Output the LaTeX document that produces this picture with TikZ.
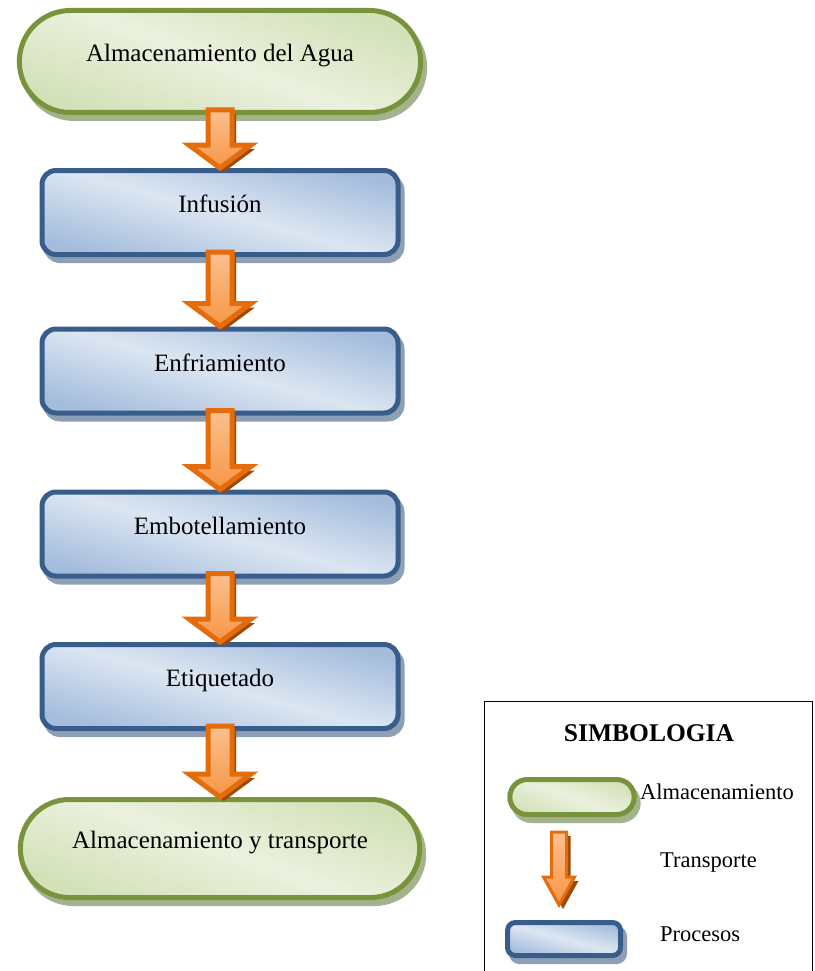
\documentclass[tikz,border=0pt]{standalone}
\usepackage{fontspec}
\setmainfont{Liberation Serif}
\usepackage{tikz}
\usetikzlibrary{calc,positioning,shadows,shapes.misc}
\definecolor{verdeborde}{HTML}{77933C}
\definecolor{verdeclaro}{HTML}{EBF1DE}
\definecolor{verdemedio}{HTML}{D3E1B8}
\definecolor{verdesombra}{HTML}{A3B38D}
\definecolor{azulborde}{HTML}{385D8A}
\definecolor{azulclaro}{HTML}{DCE6F2}
\definecolor{azulmedio}{HTML}{A5BDDD}
\definecolor{azulsombra}{HTML}{8E9FB5}
\definecolor{naranja}{HTML}{E46C0A}
\definecolor{naranjaclaro}{HTML}{FAC090}
\definecolor{naranjamedio}{HTML}{F79646}
\definecolor{naranjasombra}{HTML}{9C4A08}
\newcommand{\flecha}[6][]{%
  \draw[flecha,#1] ($(#2)+(-#4,-5)$) -- ($(#3)+(-#4,-#6)$) -- ($(#3)+(-#5,-#6)$) -- (#3)
    -- ($(#3)+(#5,-#6)$) -- ($(#3)+(#4,-#6)$) -- ($(#2)+(#4,-5)$) -- cycle;}

\begin{document}
\begin{tikzpicture}[
    x=1pt, y=-1pt,
    txt/.style={font=\fontsize{25}{30}\selectfont, text height=10pt, text depth=10pt},
    terminal/.style={rounded rectangle, draw=verdeborde, line width=5pt, txt,
        top color=verdemedio, bottom color=verdemedio, middle color=verdeclaro, shading angle=-20,
        drop shadow={shadow xshift=4pt, shadow yshift=-6pt, fill=verdesombra, draw=verdesombra, opacity=1}},
    proceso/.style={rectangle, rounded corners=14pt, draw=azulborde, line width=5pt, txt,
        minimum width=356pt, minimum height=84pt,
        top color=azulmedio, bottom color=azulmedio, middle color=azulclaro, shading angle=-15,
        drop shadow={shadow xshift=4pt, shadow yshift=-6pt, fill=azulsombra, draw=azulsombra, opacity=1}},
    flecha/.style={draw=naranja, line width=5pt, line join=miter,
        top color=naranjaclaro, bottom color=naranjamedio,
        drop shadow={shadow xshift=4pt, shadow yshift=-4pt, fill=naranjasombra, opacity=1}},
    leyenda/.style={font=\fontsize{22.5}{27}\selectfont, anchor=base west, inner sep=0}]
\useasboundingbox (0,0) rectangle (814,971);

% diagrama
\node[terminal, minimum width=408pt, minimum height=102pt] (agua) at (220,61.5) {Almacenamiento del Agua};
\node[proceso] (infusion) at (220,212.5) {Infusión};
\node[proceso] (enfriamiento) at (220,371) {Enfriamiento};
\node[proceso] (embotellado) at (220,534) {Embotellamiento};
\node[proceso] (etiquetado) at (220,686.5) {Etiquetado};
\node[terminal, minimum width=406pt, minimum height=98pt] (transporte) at (220,848.5) {Almacenamiento y transporte};

\flecha{agua.south}{infusion.north}{12}{31}{23}
\flecha{infusion.south}{enfriamiento.north}{12}{31}{23}
\flecha{enfriamiento.south}{embotellado.north}{12}{31}{23}
\flecha{embotellado.south}{etiquetado.north}{12}{31}{23}
\flecha{etiquetado.south}{transporte.north}{12}{31}{23}

% simbologia
\draw[line width=1.5pt] (484.5,701.5) rectangle (812.5,990);
\node[font=\fontsize{25.5}{30}\selectfont\bfseries, anchor=base, inner sep=0] (titulo) at (649,741) {SIMBOLOGIA};
\node[terminal, minimum width=131pt, minimum height=35pt, line width=5pt] (legalm) at (572,797) {};
\node[leyenda] (txtalm) at (640,799) {Almacenamiento};
\coordinate (legtop) at (559,837);
\coordinate (legtip) at (559,905);
\flecha[line width=3pt]{legtop}{legtip}{7.5}{15.5}{28}
\node[leyenda] (txttrans) at (660,867) {Transporte};
\node[proceso, rounded corners=8pt, minimum width=113pt, minimum height=33pt] (legproc) at (564,939) {};
\node[leyenda] (txtproc) at (660,941) {Procesos};
\end{tikzpicture}
\end{document}
